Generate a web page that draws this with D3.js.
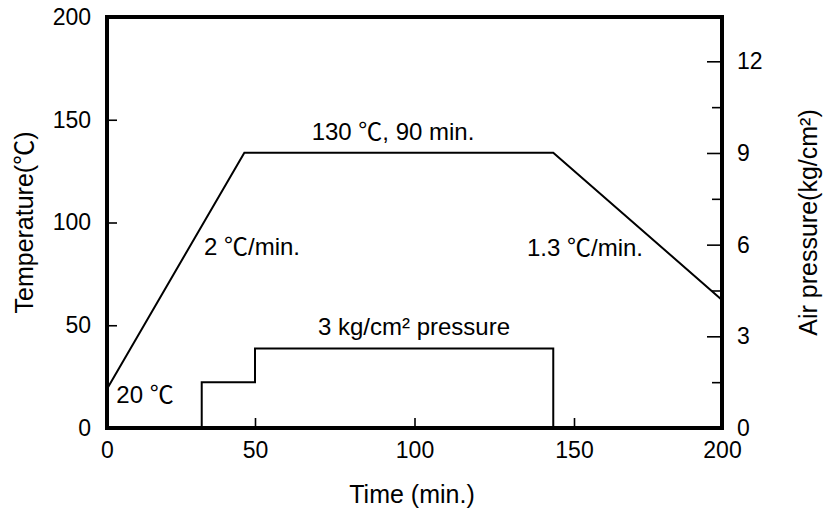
<!DOCTYPE html>
<html>
<head>
<meta charset="utf-8">
<script src="https://cdn.jsdelivr.net/npm/d3@7"></script>
<style>
  body { margin: 0; background: #fff; }
  svg text { font-family: "Liberation Sans", Arial, "Noto Sans CJK KR", sans-serif; fill: #000; }
</style>
</head>
<body>
<svg width="825" height="517"></svg>
<script>
// temperature profile (time in min., temperature in C)
var tempTime = [0, 46.4, 143.5, 200];
var tempValue = [19, 134, 134, 62.3];

// air pressure steps (time in min., pressure in kg/cm2)
var pressTime = [32, 32, 50, 50, 143.5, 143.5];
var pressValue = [0, 1.5, 1.5, 2.6, 2.6, 0];

var xTicks = [0, 50, 100, 150, 200];
var yTicks = [50, 100, 150];
var yLabelTicks = [0, 50, 100, 150, 200];
var rTicks = [0, 3, 6, 9, 12];
var rMinor = [1.5, 4.5, 7.5, 10.5];

var svg = d3.select("svg");
var pl = 107, pr = 722, pt = 17, pb = 428;

// the original drawing has uneven tick spacing, so a piecewise scale
var x = d3.scaleLinear().domain([0, 50, 150, 200]).range([pl, 255, 574, pr]);
var y = d3.scaleLinear().domain([0, 200]).range([pb, pt]);
var yr = d3.scaleLinear().domain([0, 13.45]).range([pb, pt]);

var fs = 23;

// bottom axis
var gx = svg.append("g").attr("transform", "translate(0," + pb + ")")
  .call(d3.axisBottom(x).tickValues(xTicks).tickSizeInner(-10).tickSizeOuter(0).tickPadding(14));

// left axis: ticks at 50/100/150, labels at all
var gy = svg.append("g").attr("transform", "translate(" + pl + ",0)")
  .call(d3.axisLeft(y).tickValues(yLabelTicks).tickSizeInner(-10).tickSizeOuter(0).tickPadding(16));
gy.selectAll(".tick line").filter(function(d) { return yTicks.indexOf(d) < 0; }).remove();

// right axis
var gr = svg.append("g").attr("transform", "translate(" + pr + ",0)")
  .call(d3.axisRight(yr).tickValues(rTicks).tickSizeInner(-15).tickSizeOuter(0).tickPadding(15));
gr.selectAll(".tick").filter(function(d) { return d == 0; }).select("line").remove();
var grm = svg.append("g").attr("transform", "translate(" + pr + ",0)")
  .call(d3.axisRight(yr).tickValues(rMinor).tickSizeInner(-10).tickSizeOuter(0).tickFormat(""));

[gx, gy, gr, grm].forEach(function(g) {
  g.select(".domain").remove();
  g.selectAll(".tick line").attr("stroke", "#000").attr("stroke-width", 1.6);
  g.selectAll(".tick text").attr("font-size", fs).attr("fill", "#000")
    .style("font-family", "'Liberation Sans', Arial, sans-serif");
});

// frame
svg.append("rect")
  .attr("x", pl).attr("y", pt)
  .attr("width", pr - pl).attr("height", pb - pt)
  .attr("fill", "none").attr("stroke", "#000").attr("stroke-width", 4);

var line = d3.line();

svg.append("path")
  .datum(tempTime.map(function(t, i) { return [x(t), y(tempValue[i])]; }))
  .attr("d", line)
  .attr("fill", "none").attr("stroke", "#000").attr("stroke-width", 2);

svg.append("path")
  .datum(pressTime.map(function(t, i) { return [x(t), yr(pressValue[i])]; }))
  .attr("d", line)
  .attr("fill", "none").attr("stroke", "#000").attr("stroke-width", 2);

// annotations
function label(txt, cx, by, size) {
  svg.append("text").attr("x", cx).attr("y", by)
    .attr("text-anchor", "middle").attr("font-size", size || fs).text(txt);
}
label("130 ℃, 90 min.", 393, 140, 24);
label("2 ℃/min.", 252, 255, 24);
label("1.3 ℃/min.", 585, 256, 24);
label("20 ℃", 145, 403, 24);
label("3 kg/cm² pressure", 414, 335, 24);

// axis titles
svg.append("text").attr("x", 412).attr("y", 503)
  .attr("text-anchor", "middle").attr("font-size", 25).text("Time (min.)");

svg.append("text")
  .attr("transform", "translate(33," + (pt + pb) / 2 + ") rotate(-90)")
  .attr("text-anchor", "middle").attr("font-size", 25).text("Temperature(℃)");

svg.append("text")
  .attr("transform", "translate(817," + (pt + pb) / 2 + ") rotate(-90)")
  .attr("text-anchor", "middle").attr("font-size", 25).text("Air pressure(kg/cm²)");
</script>
</body>
</html>
